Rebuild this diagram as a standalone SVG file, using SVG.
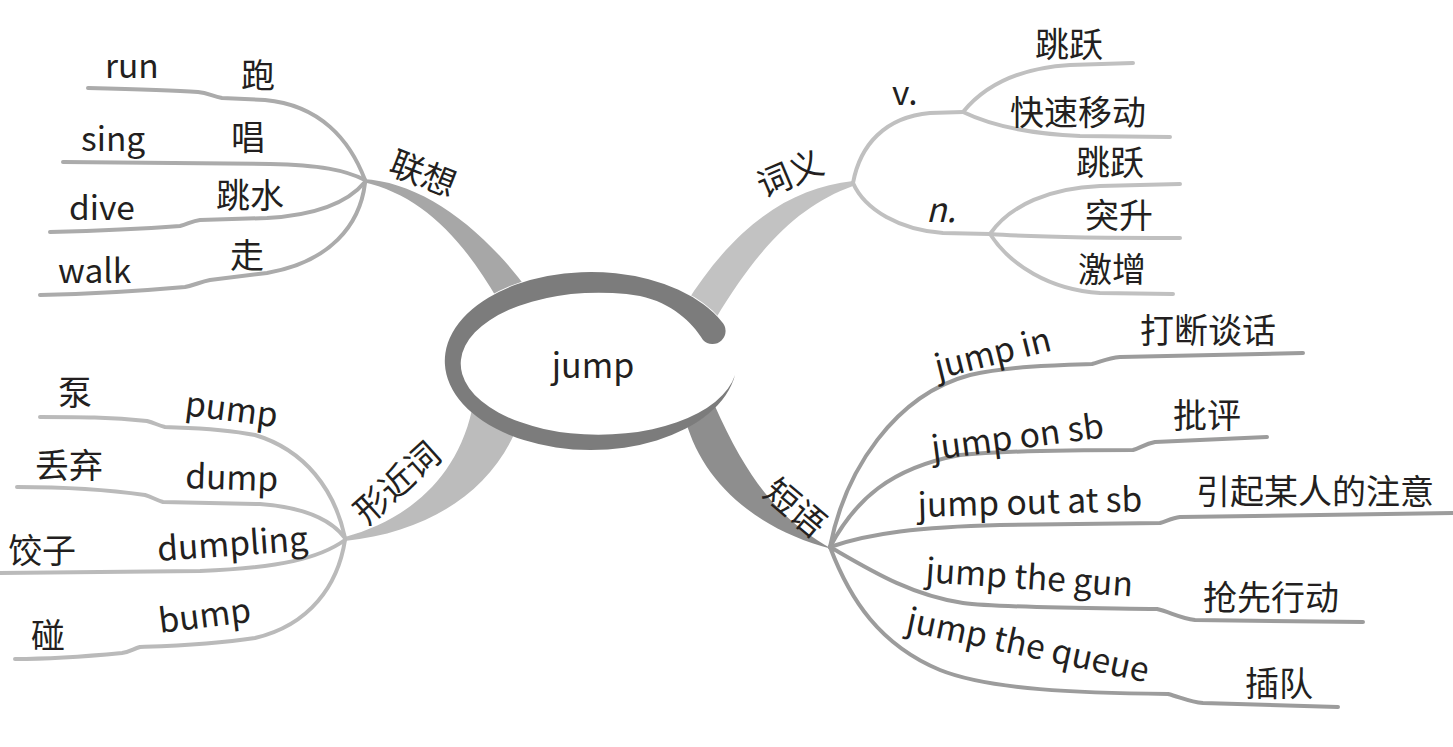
<svg xmlns="http://www.w3.org/2000/svg" width="1453" height="747" viewBox="0 0 1453 747">
<style>
text{font-family:"Noto Sans CJK SC","Noto Sans",sans-serif;fill:#231f20}
.en{font-size:33.5px}
.zh{font-size:34px}
.ln{fill:none;stroke-width:4;stroke-linecap:round;stroke-linejoin:round}
.a{stroke:#ababab}
.b{stroke:#c0c0c0}
.c{stroke:#bababa}
.d{stroke:#9c9c9c}
</style>
<rect width="1453" height="747" fill="#fff"/>
<g id="connectors">
  <!-- main branches -->
  <path d="M363,179 C420,182 480,225 528,290 L498,300 C460,235 420,195 363,182 Z" fill="#a7a7a7"/>
  <path d="M853,181 C790,188 735,225 685,305 L716,318 C760,245 800,205 853,186 Z" fill="#c2c2c2"/>
  <path d="M345,537 C400,522 455,485 472,410 L520,420 C495,490 430,532 345,541 Z" fill="#bcbcbc"/>
  <path d="M684,414 C698,475 748,527 832,549 C785,522 752,490 714,404 Z" fill="#8e8e8e"/>
  <!-- 联想 leaves -->
  <path class="ln a" d="M365,180 C350,140 320,105 265,100 L222,98 C212,96 208,93 198,92 C170,90 130,89 88,88"/>
  <path class="ln a" d="M365,180 C345,170 320,165 270,164 L63,162"/>
  <path class="ln a" d="M365,182 C350,200 320,215 267,218 L200,220 C192,221 188,224 180,226 C140,229 90,231 50,232"/>
  <path class="ln a" d="M365,183 C360,225 330,262 267,273 L210,280 C200,282 195,285 185,287 C140,291 90,294 40,295"/>
  <!-- 词义 leaves -->
  <path class="ln b" d="M853,183 C860,145 885,117 930,113 L963,112"/>
  <path class="ln b" d="M963,112 C985,85 1020,68 1070,65 L1133,63"/>
  <path class="ln b" d="M963,112 C990,125 1030,134 1080,136 L1170,137"/>
  <path class="ln b" d="M853,183 C865,210 900,230 943,233 L990,234"/>
  <path class="ln b" d="M990,234 C1010,205 1050,188 1100,186 L1180,184"/>
  <path class="ln b" d="M990,234 C1030,237 1080,238 1180,238"/>
  <path class="ln b" d="M990,234 C1010,265 1050,290 1100,293 L1173,294"/>
  <!-- 形近词 leaves -->
  <path class="ln c" d="M345,538 C335,490 305,450 255,435 C220,428 190,428 165,427 C157,425 155,423 147,421 C110,417 80,417 40,417"/>
  <path class="ln c" d="M345,538 C330,518 300,507 260,504 L163,502 C156,500 152,497 145,495 C110,490 60,487 17,487"/>
  <path class="ln c" d="M345,540 C320,558 280,568 200,571 L0,573"/>
  <path class="ln c" d="M345,540 C338,585 310,625 255,638 C210,645 170,646 140,647 C133,649 130,652 122,653 C80,657 40,659 15,659"/>
  <!-- 短语 leaves -->
  <path class="ln d" d="M830,547 C845,470 895,395 970,375 C1010,366 1060,365 1092,364 C1100,362 1108,358 1120,357 L1303,353"/>
  <path class="ln d" d="M830,547 C855,500 890,468 960,455 C1010,450 1080,450 1133,450 C1140,448 1145,444 1155,442 L1267,437"/>
  <path class="ln d" d="M830,547 C870,533 920,527 1000,525 L1160,523 C1167,521 1172,518 1180,517 L1453,513"/>
  <path class="ln d" d="M830,547 C870,570 910,595 963,603 C1000,608 1100,608 1157,609 C1170,612 1180,618 1195,620 L1363,622"/>
  <path class="ln d" d="M830,547 C850,600 880,645 940,670 C990,690 1080,693 1168,694 C1180,697 1190,702 1203,703 L1338,707"/>
</g>
<g id="center">
  <ellipse cx="591" cy="360" rx="146" ry="89" fill="#fff"/>
  <path d="M722,322 A146,89 0 1 0 735,375 A138,71 0 1 1 640,296 C672,303 692,322 703,340 A13,13 0 0 0 722,322 Z" fill="#7c7c7c"/>
  <text x="593" y="378" text-anchor="middle" font-size="34">jump</text>
</g>
<g id="lianxiang"><text class="zh" text-anchor="middle" transform="translate(423,174) rotate(21.5)" x="0" y="12">联想</text></g>
<g id="run"><text class="en" x="105" y="78">run</text></g>
<g id="pao"><text class="zh" x="241" y="88">跑</text></g>
<g id="sing"><text class="en" x="81" y="151">sing</text></g>
<g id="chang"><text class="zh" x="231" y="150">唱</text></g>
<g id="dive"><text class="en" x="69" y="220">dive</text></g>
<g id="tiaoshui"><text class="zh" x="216" y="208">跳水</text></g>
<g id="walk"><text class="en" x="58" y="283">walk</text></g>
<g id="zou"><text class="zh" x="230" y="268">走</text></g>

<g id="ciyi"><text class="zh" text-anchor="middle" transform="translate(790,174) rotate(-23)" x="0" y="12">词义</text></g>
<g id="v"><text class="en" x="892" y="105">v.</text></g>
<g id="tiaoyue-v"><text class="zh" x="1035" y="57">跳跃</text></g>
<g id="kuaisu"><text class="zh" x="1010" y="125">快速移动</text></g>
<g id="n"><text class="en" x="926" y="222" font-style="italic">n.</text></g>
<g id="tiaoyue-n"><text class="zh" x="1076" y="175">跳跃</text></g>
<g id="tusheng"><text class="zh" x="1085" y="228">突升</text></g>
<g id="jizeng"><text class="zh" x="1078" y="282">激增</text></g>

<g id="xingjinci"><text class="zh" text-anchor="middle" transform="translate(397,483) rotate(-42)" x="0" y="12">形近词</text></g>
<g id="beng"><text class="zh" x="58" y="405">泵</text></g>
<g id="pump"><text class="en" transform="translate(184,415) rotate(7.5)">pump</text></g>
<g id="diuqi"><text class="zh" x="35" y="478">丢弃</text></g>
<g id="dump"><text class="en" transform="translate(185,488) rotate(2)">dump</text></g>
<g id="jiaozi"><text class="zh" x="8" y="563">饺子</text></g>
<g id="dumpling"><text class="en" transform="translate(158,561) rotate(-4)">dumpling</text></g>
<g id="peng"><text class="zh" x="31" y="648">碰</text></g>
<g id="bump"><text class="en" transform="translate(160,633) rotate(-7)">bump</text></g>

<g id="duanyu"><text class="zh" text-anchor="middle" transform="translate(795,508) rotate(40)" x="0" y="12">短语</text></g>
<g id="jumpin"><text class="en" transform="translate(938,379) rotate(-14)">jump in</text></g>
<g id="daduan"><text class="zh" x="1140" y="343">打断谈话</text></g>
<g id="jumponsb"><text class="en" transform="translate(933,460) rotate(-7.5)">jump on sb</text></g>
<g id="piping"><text class="zh" x="1173" y="428">批评</text></g>
<g id="jumpoutatsb"><text class="en" transform="translate(918,517) rotate(-1.5)">jump out at sb</text></g>
<g id="yinqi"><text class="zh" x="1196" y="504">引起某人的注意</text></g>
<g id="jumpthegun"><text class="en" transform="translate(925,582) rotate(4)">jump the gun</text></g>
<g id="qiangxian"><text class="zh" x="1203" y="610">抢先行动</text></g>
<g id="jumpthequeue"><text class="en" transform="translate(905,631) rotate(12)">jump the queue</text></g>
<g id="chadui"><text class="zh" x="1245" y="696">插队</text></g>
</svg>
